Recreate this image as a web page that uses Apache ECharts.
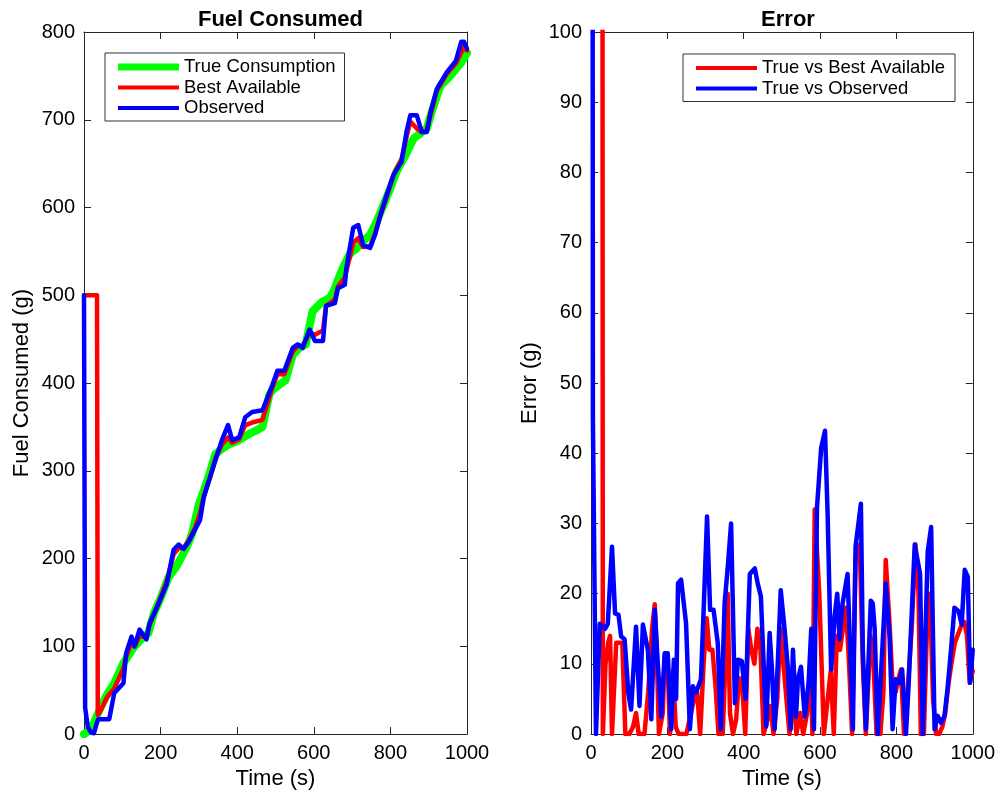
<!DOCTYPE html>
<html>
<head>
<meta charset="utf-8">
<script src="https://cdn.jsdelivr.net/npm/echarts@6/dist/echarts.min.js"></script>
<style>
  html, body { margin: 0; padding: 0; background: #fff; }
  #chart { width: 998px; height: 795px; }
</style>
</head>
<body>
<div id="chart"></div>
<script>
// Fuel consumed (g) against time (s): [time, grams]
const trueConsumption = [
  [0,0],[10,3],[25,12],[45,32],[60,45],[79,58],[103,81],[132,100],[150,108],[168,115],
  [182,137],[200,155],[221,179],[240,190],[255,202],[270,215],[282,228],[300,262],[316,281],
  [330,300],[343,319],[360,325],[378,330],[400,334],[431,342],[450,346],[466,350],[484,387],
  [492,392],[510,398],[526,403],[545,432],[562,440],[579,444],[597,482],[620,492],[642,497],
  [655,508],[668,523],[680,535],[695,548],[711,553],[730,562],[747,569],[765,585],[782,603],
  [800,622],[816,641],[840,660],[861,679],[880,685],[895,690],[905,705],[920,725],[931,739],
  [950,747],[966,755],[985,765],[1000,776]
];
const bestAvailable = [
  [0,500],[34,500],[36,22],[45,28],[60,42],[79,52],[103,75],[110,88],[124,105],[132,100],
  [145,112],[163,110],[171,124],[195,150],[216,174],[234,205],[247,212],[260,212],[273,220],
  [290,235],[303,252],[313,272],[329,292],[343,314],[360,330],[376,338],[387,332],[405,336],
  [421,352],[439,355],[466,358],[492,395],[505,410],[523,410],[545,436],[558,442],[571,442],
  [589,458],[603,455],[624,460],[632,488],[655,495],[663,510],[681,520],[703,560],[716,565],
  [729,555],[747,556],[760,570],[774,592],[790,612],[808,637],[829,655],[842,680],[852,698],
  [869,690],[882,686],[895,688],[905,706],[921,733],[947,752],[971,764],[992,783],[1000,779]
];
const observed = [
  [0,500],[3,30],[10,8],[18,2],[26,1],[33,12],[37,17],[66,17],[79,47],[103,58],[110,92],
  [124,111],[132,100],[145,119],[163,108],[171,126],[195,149],[216,171],[234,210],[247,216],
  [260,211],[273,219],[290,233],[303,244],[313,270],[329,293],[343,312],[360,335],[376,352],
  [387,335],[405,338],[421,361],[439,367],[466,369],[492,398],[505,414],[523,414],[545,440],
  [558,444],[571,440],[589,461],[603,448],[624,448],[632,488],[655,491],[663,508],[681,512],
  [685,531],[703,577],[716,580],[729,557],[747,554],[760,569],[774,591],[790,614],[808,637],
  [829,652],[842,686],[852,705],[869,705],[882,686],[895,686],[905,709],[921,735],[947,754],
  [971,767],[985,789],[992,789],[1000,781]
];

// Error (g) against time (s): [time, grams]
const errorBest = [
  [0,500],[27,500],[31,0],[38,10],[45,13],[50,14],[55,0],[60,0],[66,13],[75,13],[82,13],
  [90,0],[100,0],[110,1],[118,3],[125,0],[140,0],[150,6],[160,15],[167,18.5],[172,12],[178,0],
  [188,3],[193,11],[200,11],[207,0],[215,9],[222,1],[230,0],[250,0],[262,3],[270,5],[278,6],
  [286,0],[295,10],[303,16.5],[310,12],[318,12],[326,7],[334,0],[345,0],[352,10],[358,20],
  [364,3],[372,0],[380,2],[388,8],[396,7],[404,0],[412,15],[420,12],[428,10],[436,15],[444,12],
  [452,0],[462,2],[470,4],[478,0],[488,5],[496,15],[504,10],[512,5],[520,0],[530,6],[538,0],
  [548,3],[556,0],[566,3],[575,10],[580,0],[586,32],[598,20],[610,0],[620,5],[628,9],[636,0],
  [644,14],[652,12],[660,15],[668,18],[676,10],[684,0],[693,25],[704,27],[712,10],[720,0],
  [732,14],[740,10],[748,0],[758,0],[766,6],[772,24.8],[782,15.8],[790,7],[798,6],[806,8],
  [812,9.2],[820,0],[828,5],[840,15],[850,27],[858,20],[864,0],[872,0],[880,15],[888,20],
  [896,5],[904,0],[912,0],[920,1],[928,3],[936,7],[944,10],[953,13],[960,14],[969,15.3],
  [978,16],[985,14],[992,7.3],[1000,9]
];
const errorObserved = [
  [0,500],[5,45],[13,0],[23,15.7],[37,15],[44,15.7],[55,26.7],[63,17.2],[72,17],[79,13.9],
  [88,13.5],[98,5.8],[105,3.5],[118,15.3],[127,4],[136,15.6],[149,12],[158,2.1],[167,17.7],
  [175,10],[184,2.5],[193,11.5],[201,11.5],[210,0.7],[217,10.6],[223,5],[228,21.5],[236,22],
  [249,15.8],[259,0.7],[267,6.8],[275,5.9],[288,7.8],[296,19],[304,31],[312,17.7],[321,17.7],
  [332,13],[340,0.7],[350,18.6],[359,24.3],[367,30],[377,4.4],[385,10.6],[395,10.4],[405,5],
  [416,22.8],[429,23.6],[437,21.4],[445,19.6],[459,1.1],[468,14.4],[474,9.2],[481,0.7],[490,11],
  [497,20.5],[507,15],[516,9.2],[523,0.7],[529,12],[537,2.5],[542,7.8],[550,9.6],[560,2.5],
  [570,7.3],[577,15],[584,0.7],[592,32.3],[603,40.8],[613,43.2],[620,31],[629,9.2],[638,16.7],
  [645,20],[651,13.5],[659,18.6],[672,22.8],[686,0.7],[693,26.7],[707,32.8],[712,12],[720,0.7],
  [733,19],[738,18.6],[743,15],[751,0],[764,13],[772,21.4],[782,14],[790,0.7],[798,7.8],
  [807,7.3],[815,9.2],[825,0],[832,7],[848,27],[862,22.8],[869,0],[882,26],[891,29.5],
  [900,0.7],[908,2.6],[917,1.6],[926,2.6],[934,6.5],[943,12],[952,18],[963,17.5],[971,15.6],
  [979,23.4],[987,22.4],[993,7.3],[1000,12]
];

const seriesNames = ['True Consumption', 'Best Available', 'Observed'];
const errorNames = ['True vs Best Available', 'True vs Observed'];

const FONT = 'Liberation Sans, Arial, Helvetica, sans-serif';
const AXIS_COLOR = '#262626';
const GREEN = '#00ff00', RED = '#ff0000', BLUE = '#0000ff';

function boxAxis(extra) {
  return Object.assign({
    type: 'value',
    axisLine: { show: true, onZero: false, lineStyle: { color: AXIS_COLOR, width: 1 } },
    axisTick: { show: true, inside: true, length: 7, lineStyle: { color: AXIS_COLOR } },
    splitLine: { show: false },
    axisLabel: { show: true, fontSize: 20, color: '#000', fontFamily: FONT, margin: 9,
      formatter: v => String(v) }
  }, extra);
}
function mirror(extra) {
  const a = boxAxis(extra);
  a.axisLabel = { show: false };
  return a;
}

function lineSeries(name, data, color, width, xi, yi, z) {
  return {
    name, type: 'line', data, xAxisIndex: xi, yAxisIndex: yi,
    showSymbol: false, symbol: 'none', clip: true, z,
    color, itemStyle: { color },
    lineStyle: { color, width, join: 'round', cap: 'round' }
  };
}

const nameStyle = { fontSize: 22, color: '#000', fontFamily: FONT, verticalAlign: 'middle' };
const titleStyle = { fontSize: 22, fontWeight: 'bold', color: '#000', fontFamily: FONT };

const chart = echarts.init(document.getElementById('chart'), null, { renderer: 'canvas' });
chart.setOption({
  animation: false,
  backgroundColor: '#fff',
  textStyle: { fontFamily: FONT },
  title: [
    { text: 'Fuel Consumed', left: 275.5, top: 4, textAlign: 'center', textStyle: titleStyle },
    { text: 'Error', left: 783, top: 4, textAlign: 'center', textStyle: titleStyle }
  ],
  legend: [
    {
      data: [
        { name: seriesNames[0], icon: 'path://M0,0H60V7H0Z' },
        { name: seriesNames[1], icon: 'path://M0,0H60V4H0Z' },
        { name: seriesNames[2], icon: 'path://M0,0H60V4H0Z' }
      ],
      orient: 'vertical', left: 105, top: 53,
      itemWidth: 61, itemHeight: 10, itemGap: 0.5,
      padding: [4, 9, 3, 13],
      borderColor: '#333', borderWidth: 1, backgroundColor: '#fff',
      selectedMode: false,
      textStyle: { fontSize: 18.5, color: '#000', fontFamily: FONT, lineHeight: 20 }
    },
    {
      data: [
        { name: errorNames[0], icon: 'path://M0,0H60V4H0Z' },
        { name: errorNames[1], icon: 'path://M0,0H60V4H0Z' }
      ],
      orient: 'vertical', left: 683, top: 54,
      itemWidth: 61, itemHeight: 10, itemGap: 0.5,
      padding: [4, 10, 3, 13],
      borderColor: '#333', borderWidth: 1, backgroundColor: '#fff',
      selectedMode: false,
      textStyle: { fontSize: 18.5, color: '#000', fontFamily: FONT, lineHeight: 20 }
    }
  ],
  grid: [
    { left: 84, top: 32, width: 383, height: 706, containLabel: false },
    { left: 591, top: 32, width: 384, height: 706, containLabel: false }
  ],
  xAxis: [
    boxAxis({ gridIndex: 0, position: 'bottom', min: 0, max: 1000, interval: 200,
      name: 'Time (s)', nameLocation: 'middle', nameGap: 40, nameTextStyle: nameStyle }),
    mirror({ gridIndex: 0, position: 'top', min: 0, max: 1000, interval: 200 }),
    boxAxis({ gridIndex: 1, position: 'bottom', min: 0, max: 1000, interval: 200,
      name: 'Time (s)', nameLocation: 'middle', nameGap: 40, nameTextStyle: nameStyle }),
    mirror({ gridIndex: 1, position: 'top', min: 0, max: 1000, interval: 200 })
  ],
  yAxis: [
    boxAxis({ gridIndex: 0, position: 'left', min: 0, max: 800, interval: 100,
      name: 'Fuel Consumed (g)', nameLocation: 'middle', nameGap: 62, nameRotate: 90,
      nameTextStyle: nameStyle }),
    mirror({ gridIndex: 0, position: 'right', min: 0, max: 800, interval: 100 }),
    boxAxis({ gridIndex: 1, position: 'left', min: 0, max: 100, interval: 10,
      name: 'Error (g)', nameLocation: 'middle', nameGap: 61, nameRotate: 90,
      nameTextStyle: nameStyle }),
    mirror({ gridIndex: 1, position: 'right', min: 0, max: 100, interval: 10 })
  ],
  series: [
    lineSeries(seriesNames[0], trueConsumption, GREEN, 8, 0, 0, 2),
    lineSeries(seriesNames[1], bestAvailable, RED, 4.5, 0, 0, 3),
    lineSeries(seriesNames[2], observed, BLUE, 4.5, 0, 0, 4),
    lineSeries(errorNames[0], errorBest, RED, 4.5, 2, 2, 3),
    lineSeries(errorNames[1], errorObserved, BLUE, 4.5, 2, 2, 4)
  ]
});
</script>
</body>
</html>
